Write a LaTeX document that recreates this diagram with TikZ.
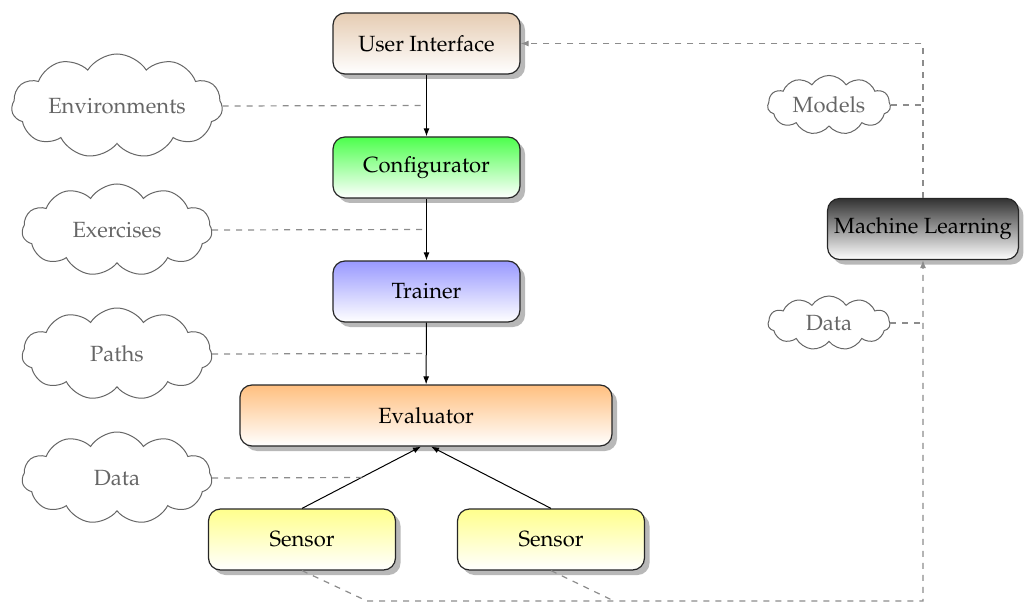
\documentclass[tikz,border=0pt]{standalone}
\usepackage[T1]{fontenc}
\usepackage{mathpazo}
\usetikzlibrary{shapes.symbols,shadows,arrows.meta}

\tikzset{
  block/.style={draw=black!85, line width=0.6pt, rounded corners=6pt,
    minimum width=93.5pt, minimum height=30.5pt, align=center,
    font=\fontsize{11}{13}\selectfont,
    drop shadow={shadow xshift=2.5pt, shadow yshift=-2.5pt, fill=black, opacity=0.28}},
  idea/.style={cloud, draw=black!60, text=black!60, line width=0.5pt,
    cloud puffs=11, cloud puff arc=115, cloud ignores aspect,
    font=\fontsize{11}{13}\selectfont},
  flow/.style={-{Latex[length=4pt,width=3pt]}, line width=0.5pt, black},
  link/.style={dashed, black!45, line width=0.6pt},
  feed/.style={link, -{Latex[length=4pt,width=3pt]}},
}

\begin{document}
\begin{tikzpicture}[x=0.5pt, y=-0.5pt]
  \useasboundingbox (0,0) rectangle (1027,604);

  % main pipeline
  \node[block, top color=brown!40, bottom color=white] (ui) at (426.5,43.5) {User Interface};
  \node[block, top color=green!70, bottom color=white] (conf) at (426.5,167.5) {Configurator};
  \node[block, top color=blue!40, bottom color=white] (train) at (426.5,291.5) {Trainer};
  \node[block, top color=orange!50, bottom color=white, minimum width=186pt] (eval) at (426,415.5) {Evaluator};
  \node[block, top color=yellow!45, bottom color=white] (s1) at (302,539.5) {Sensor};
  \node[block, top color=yellow!45, bottom color=white] (s2) at (551,539.5) {Sensor};
  \node[block, top color=black!80, bottom color=white, minimum width=95pt] (ml) at (923,229) {Machine Learning};

  % resources
  \node[idea, minimum width=103pt, minimum height=52pt] (env) at (117,106) {Environments};
  \node[idea, minimum width=95pt, minimum height=46pt] (ex) at (117,230) {Exercises};
  \node[idea, minimum width=95pt, minimum height=46pt] (pa) at (117,354) {Paths};
  \node[idea, minimum width=95pt, minimum height=46pt] (da) at (117,478) {Data};
  \node[idea, minimum width=61pt, minimum height=27pt] (mo) at (829,105) {Models};
  \node[idea, minimum width=61pt, minimum height=27pt] (dr) at (829,323) {Data};

  % flow arrows
  \draw[flow] (ui) -- coordinate[pos=0.5] (m1) (conf);
  \draw[flow] (conf) -- coordinate[pos=0.5] (m2) (train);
  \draw[flow] (train) -- coordinate[pos=0.5] (m3) (eval);
  \draw[flow] (s1.north) -- coordinate[pos=0.5] (m4) ([xshift=-2.5pt]eval.south);
  \draw[flow] (s2.north) -- ([xshift=2.5pt]eval.south);

  % resource links
  \draw[link] (env.east) -- (m1);
  \draw[link] (ex.east) -- (m2);
  \draw[link] (pa.east) -- (m3);
  \draw[link] (da.east) -- (m4);

  % learning loop
  \coordinate (b1) at (367,601);
  \coordinate (b2) at (614,601);
  \coordinate (b3) at (923,601);
  \coordinate (t1) at (923,43.5);
  \draw[feed] (ml.north) -- (t1) -- (ui.east);
  \draw[feed] (s1.south) -- (b1) -- (b3) -- (ml.south);
  \draw[link] (s2.south) -- (b2);
  \draw[link] (mo.east) -- (mo.east -| ml.north);
  \draw[link] (dr.east) -- (dr.east -| ml.south);
\end{tikzpicture}
\end{document}
